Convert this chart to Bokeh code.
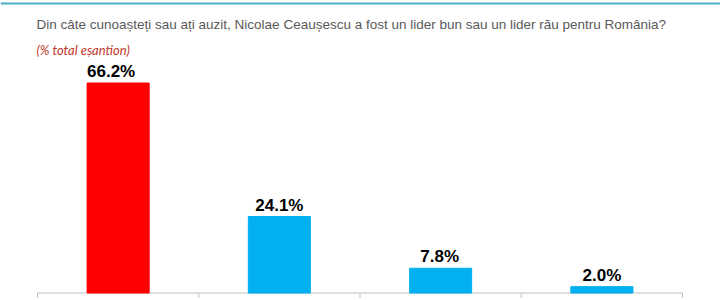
from bokeh.plotting import figure
from bokeh.models import ColumnDataSource, Range1d, LabelSet, Label, Span
from bokeh.core.properties import value
from bokeh.embed import file_html
from bokeh.resources import INLINE

# data
categories = ["Un lider bun", "Un lider rău", "Nu știu", "Nu răspund"]
values = [66.2, 24.1, 7.8, 2.0]
colors = ["#FF0000", "#00B0F0", "#00B0F0", "#00B0F0"]
title_text = "Din câte cunoașteți sau ați auzit, Nicolae Ceaușescu a fost un lider bun sau un lider rău pentru România?"
subtitle_text = "(% total eșantion)"

# style
label_shift_px = [-7, 0, -1, 0]

W, H = 720, 300
BASE_PX = 292.5         # pixel row of the baseline
SCALE = 3.172           # px per percent
AX_LEFT, CAT_W = 37, 161.25

def px_to_x(px):
    return (px - AX_LEFT) / CAT_W

def px_to_y(py):
    return (BASE_PX - py) / SCALE

src = ColumnDataSource(dict(
    x=[i + 0.5 for i in range(len(categories))],
    top=values,
    color=colors,
    cat=categories,
    label=[f"{v:.1f}%" for v in values],
    dx=label_shift_px,
))

p = figure(width=W, height=H, output_backend="svg", toolbar_location=None,
           x_range=Range1d(px_to_x(0), px_to_x(W)),
           y_range=Range1d(px_to_y(H), px_to_y(0)),
           min_border=0, outline_line_color=None,
           background_fill_color="white", border_fill_color="white")

p.axis.visible = False
p.grid.visible = False

# category axis: baseline and boundary ticks
bounds = list(range(len(categories) + 1))
p.segment(x0=[bounds[0]], x1=[bounds[-1]], y0=[0], y1=[0],
          line_color="#BFBFBF", line_width=1)
p.segment(x0=bounds, x1=bounds, y0=[0] * len(bounds), y1=[-5 / SCALE] * len(bounds),
          line_color="#BFBFBF", line_width=1)

p.vbar(x="x", top="top", width=0.385, bottom=0, color="color", source=src)

labels = LabelSet(x="x", y="top", text="label", source=src, text_align="center",
                  text_baseline="alphabetic", y_offset=6, x_offset="dx",
                  text_font=value("Liberation Sans"), text_font_style="bold",
                  text_font_size="17px", text_color="black")
p.add_layout(labels)

p.add_layout(Span(location=px_to_y(3), dimension="width",
                  line_color="#4BACC6", line_width=2))

p.add_layout(Label(x=px_to_x(36), y=px_to_y(24), text=title_text,
                   text_font="Liberation Sans", text_font_size="13.5px",
                   text_color="#595959", text_baseline="alphabetic"))
p.add_layout(Label(x=px_to_x(36), y=px_to_y(49), text=subtitle_text,
                   text_font="Lato", text_font_style="italic", text_font_size="13px",
                   text_color="#C0392B", text_baseline="alphabetic"))

open("out.html", "w").write(file_html(p, INLINE))
